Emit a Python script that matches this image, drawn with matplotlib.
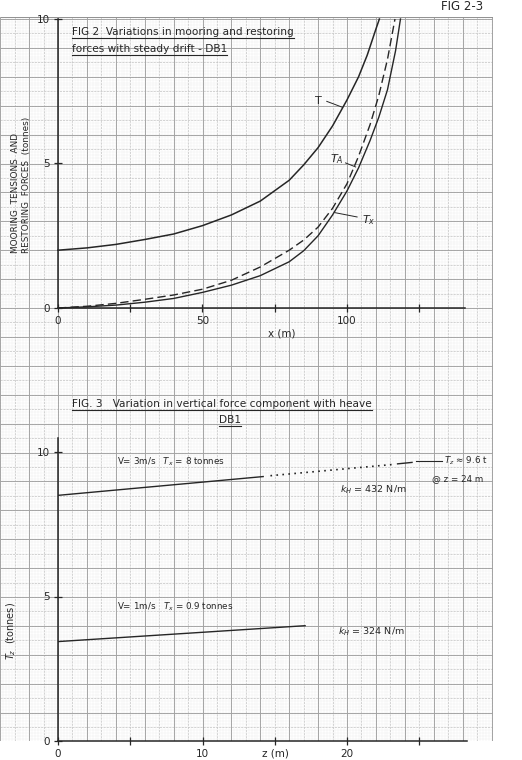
import numpy as np
import matplotlib.pyplot as plt
from matplotlib.lines import Line2D

# ============================================================
# Data
# ============================================================
# Fig 2 - mooring / restoring forces vs steady drift x (m)
x_T = [0, 10, 20, 30, 40, 50, 60, 70, 80, 85, 90, 95, 100, 104, 107, 110, 111.2]
T = [2.0, 2.08, 2.2, 2.37, 2.56, 2.85, 3.22, 3.7, 4.42, 4.95, 5.55, 6.3, 7.2, 8.0, 8.75, 9.65, 10.0]

x_TA = [0, 10, 20, 30, 40, 50, 60, 70, 80, 85, 90, 95, 100, 104, 108, 111, 114, 116.6]
TA = [0, 0.06, 0.16, 0.3, 0.45, 0.65, 0.96, 1.42, 2.0, 2.35, 2.8, 3.45, 4.3, 5.25, 6.35, 7.35, 8.6, 10.0]

x_Tx = [0, 10, 20, 30, 40, 50, 60, 70, 80, 85, 90, 95, 100, 104, 108, 111, 114, 116.8, 118.5]
Tx = [0, 0.04, 0.1, 0.2, 0.33, 0.54, 0.79, 1.12, 1.6, 1.98, 2.5, 3.22, 4.05, 4.85, 5.8, 6.6, 7.55, 8.9, 10.0]

# Fig 3 - vertical force component Tz vs heave z (m)
z_v3_solid = [0, 14.2]
tz_v3_solid = [8.5, 9.15]
z_v3_dot = [14.7, 23.2]
tz_v3_dot = [9.18, 9.57]
z_v3_end = [23.5, 24.5]
tz_v3_end = [9.59, 9.64]

z_v1 = [0, 17.1]
tz_v1 = [3.44, 3.99]

fig2_xticks = [0, 25, 50, 75, 100, 125]
fig2_xlabels = ["0", "", "50", "", "100", ""]
fig3_xticks = [0, 5, 10, 15, 20, 25]
fig3_xlabels = ["0", "", "10", "", "20", ""]
yticks = [0, 5, 10]

# ============================================================
# Figure / graph paper
# ============================================================
W, H = 522, 760
SQ = 28.9          # one heavy square of the graph paper, px
X0, Y0 = 58, 308   # origin of Fig 2 in px

def fx(px):
    return px / W

def fy(py):
    return 1 - py / H

ink = "#262626"
plt.rcParams["font.family"] = ["DejaVu Sans"]

fig = plt.figure(figsize=(W / 100, H / 100), dpi=100)
fig.patch.set_facecolor("white")

# graph paper, in units of heavy squares
paper_l, paper_r, paper_t, paper_b = 0, 493, 17, 741
bg = fig.add_axes([fx(paper_l), fy(paper_b), (paper_r - paper_l) / W, (paper_b - paper_t) / H])
gx0 = (paper_l - X0) / SQ
gx1 = (paper_r - X0) / SQ
gy0 = -(paper_b - Y0) / SQ
gy1 = (Y0 - paper_t) / SQ
bg.set_xlim(gx0, gx1)
bg.set_ylim(gy0, gy1)
bg.axis("off")

minor_x = np.arange(np.ceil(gx0 * 10), gx1 * 10 + 0.01) / 10
minor_y = np.arange(np.ceil(gy0 * 10), gy1 * 10 + 0.01) / 10
bg.vlines(minor_x, gy0, gy1, color="#e0e0e0", lw=0.35, linestyles=(0, (1, 1.2)))
bg.hlines(minor_y, gx0, gx1, color="#e0e0e0", lw=0.35, linestyles=(0, (1, 1.2)))
half_x = np.arange(np.ceil(gx0 * 2), gx1 * 2 + 0.01) / 2
half_y = np.arange(np.ceil(gy0 * 2), gy1 * 2 + 0.01) / 2
bg.vlines(half_x, gy0, gy1, color="#c4c4c4", lw=0.5, linestyles=(0, (3, 1.5)))
bg.hlines(half_y, gx0, gx1, color="#c4c4c4", lw=0.5, linestyles=(0, (3, 1.5)))
major_x = np.arange(np.ceil(gx0), np.floor(gx1) + 1)
major_y = np.arange(np.ceil(gy0), np.floor(gy1) + 1)
bg.vlines(major_x, gy0, gy1, color="#a2a2a2", lw=0.65)
bg.hlines(major_y, gx0, gx1, color="#a2a2a2", lw=0.65)
bg.vlines([gx1], gy0, gy1, color="#808080", lw=0.8)
bg.hlines([gy0, gy1], gx0, gx1, color="#909090", lw=0.7)


def style_axes(ax, xticks, xlabels, xbound, ybound):
    ax.patch.set_alpha(0)
    for s in ["top", "right"]:
        ax.spines[s].set_visible(False)
    for s in ["left", "bottom"]:
        ax.spines[s].set_color(ink)
        ax.spines[s].set_linewidth(1.1)
    ax.spines["bottom"].set_bounds(*xbound)
    ax.spines["left"].set_bounds(*ybound)
    ax.set_xticks(xticks)
    ax.set_xticklabels(xlabels)
    ax.set_yticks(yticks)
    ax.set_yticklabels([str(v) for v in yticks])
    ax.tick_params(axis="both", direction="inout", length=6, width=0.9,
                   colors=ink, labelsize=7.5, pad=3)


# ============================================================
# Fig 2
# ============================================================
ax1 = fig.add_axes([fx(X0), fy(Y0), (paper_r - X0) / W, 10 * SQ / H])
ax1.set_xlim(0, (paper_r - X0) / (SQ / 10))
ax1.set_ylim(0, 10)
style_axes(ax1, fig2_xticks, fig2_xlabels, (0, 141), (0, 10))

ax1.plot(x_T, T, color=ink, lw=1.1, clip_on=False, solid_joinstyle="round")
ax1.plot(x_TA, TA, color=ink, lw=1.0, dashes=(6, 3), clip_on=False)
ax1.plot(x_Tx, Tx, color=ink, lw=1.0, clip_on=False, solid_joinstyle="round")

ax1.text(90, 7.15, "T", fontsize=8, color=ink, ha="center", va="center")
ax1.plot([93.0, 98.3], [7.15, 6.95], color=ink, lw=0.7)
ax1.text(96.6, 5.15, "$T_A$", fontsize=8, color=ink, ha="center", va="center")
ax1.plot([99.5, 103.0], [5.02, 4.88], color=ink, lw=0.7)
ax1.text(107.5, 3.05, "$T_x$", fontsize=8, color=ink, ha="center", va="center")
ax1.plot([95.8, 103.5], [3.3, 3.15], color=ink, lw=0.7)

t1 = ax1.text(4.8, 9.55, "FIG 2  Variations in mooring and restoring",
              fontsize=7.6, color=ink, va="center")
t2 = ax1.text(4.8, 8.97, "forces with steady drift - DB1",
              fontsize=7.6, color=ink, va="center")

# ============================================================
# Fig 3
# ============================================================
ax2 = fig.add_axes([fx(X0), fy(paper_b), (paper_r - X0) / W, 12 * SQ / H])
ax2.set_xlim(0, (paper_r - X0) / (SQ / 2))
ax2.set_ylim(0, 12)
style_axes(ax2, fig3_xticks, fig3_xlabels, (0, 28.3), (0, 10.5))

ax2.plot(z_v3_solid, tz_v3_solid, color=ink, lw=1.0)
ax2.plot(z_v3_dot, tz_v3_dot, color=ink, lw=1.2, linestyle=(0, (1, 2.6)))
ax2.plot(z_v3_end, tz_v3_end, color=ink, lw=1.0)
ax2.plot(z_v1, tz_v1, color=ink, lw=1.0)

t3 = ax2.text(0.97, 11.65, "FIG. 3   Variation in vertical force component with heave",
              fontsize=7.6, color=ink, va="center")
t4 = ax2.text(11.9, 11.12, "DB1", fontsize=7.6, color=ink, ha="center", va="center")

ax2.text(4.1, 9.67, "V= 3m/s   $T_x$ = 8 tonnes", fontsize=6.3, color=ink, va="center")
ax2.text(19.5, 8.7, "$k_H$ = 432 N/m", fontsize=6.8, color=ink, va="center")
ax2.plot([24.8, 26.6], [9.7, 9.7], color=ink, lw=0.8)
ax2.text(26.7, 9.7, "$T_z$ \u2248 9.6 t", fontsize=6.3, color=ink, va="center")
ax2.text(25.9, 9.08, "@ z = 24 m", fontsize=6.3, color=ink, va="center")
ax2.text(4.1, 4.64, "V= 1m/s   $T_x$ = 0.9 tonnes", fontsize=6.3, color=ink, va="center")
ax2.text(19.4, 3.78, "$k_H$ = 324 N/m", fontsize=6.8, color=ink, va="center")

# ============================================================
# Axis labels and sheet number
# ============================================================
fig.text(fx(15), fy(253), "MOORING  TENSIONS  AND", rotation=90, rotation_mode="anchor",
         ha="left", va="center", fontsize=6.4, color=ink)
fig.text(fx(27), fy(253), "RESTORING  FORCES  (tonnes)", rotation=90, rotation_mode="anchor",
         ha="left", va="center", fontsize=6.4, color=ink)
fig.text(fx(11), fy(660), "$T_z$  (tonnes)", rotation=90, rotation_mode="anchor",
         ha="left", va="center", fontsize=7, color=ink)
fig.text(fx(282), fy(333), "x (m)", ha="center", va="center", fontsize=7.5, color=ink)
fig.text(fx(275), fy(754), "z (m)", ha="center", va="center", fontsize=7.5, color=ink)
fig.text(fx(462), fy(7), "FIG 2-3", ha="center", va="center", fontsize=8.5, color=ink)

# hand-drawn style underlines under the captions
fig.canvas.draw()
renderer = fig.canvas.get_renderer()
for t in [t1, t2, t3, t4]:
    bb = t.get_window_extent(renderer)
    fig.add_artist(Line2D([bb.x0 / W, bb.x1 / W], [(bb.y0 - 1) / H, (bb.y0 - 1) / H],
                          color=ink, lw=0.8, transform=fig.transFigure))

fig.savefig("out.png", dpi=100, facecolor="white")
